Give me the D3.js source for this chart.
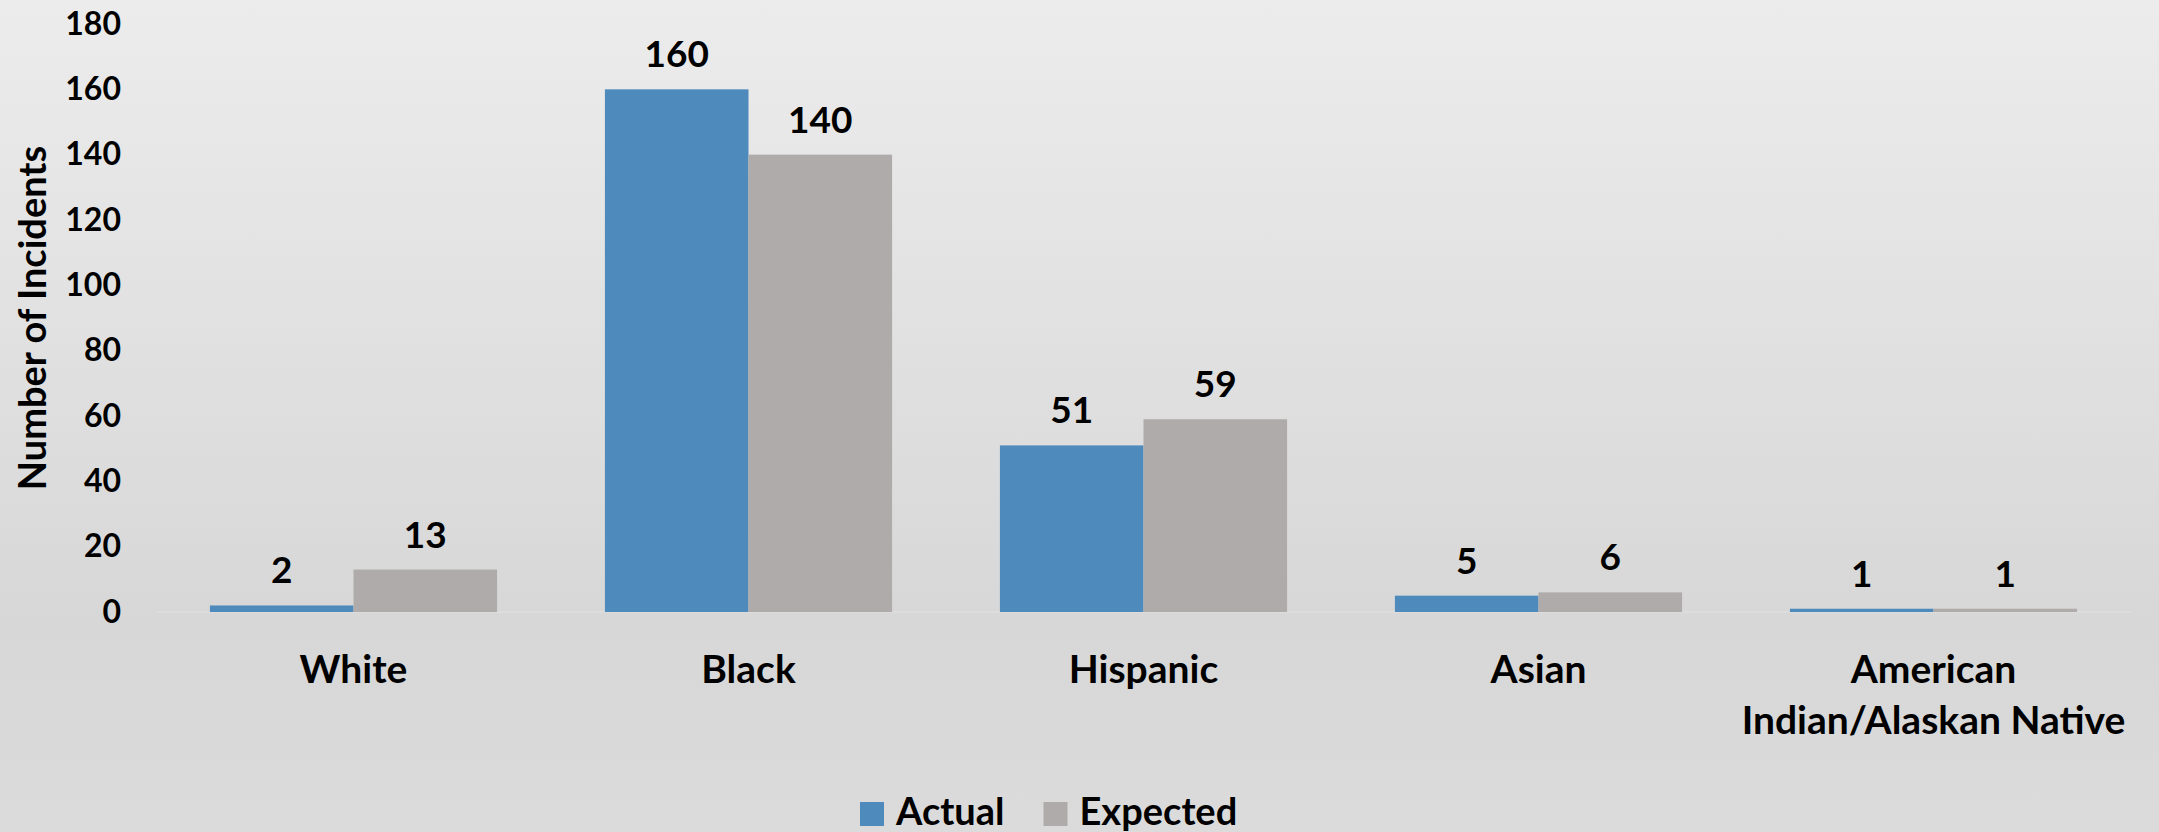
<!DOCTYPE html>
<html>
<head>
<meta charset="utf-8">
<script src="https://cdn.jsdelivr.net/npm/d3@7"></script>
<style>
  html, body { margin: 0; padding: 0; background: #d9d9d9; }
  svg { display: block; }
  text { font-family: Lato, "Open Sans", sans-serif; font-weight: bold; fill: #000; }
</style>
</head>
<body>
<svg id="chart" width="2159" height="832"></svg>
<script>
// ---- data ----
const categories = ["White", "Black", "Hispanic", "Asian", "American Indian/Alaskan Native"];
const categoryLines = [["White"], ["Black"], ["Hispanic"], ["Asian"], ["American", "Indian/Alaskan Native"]];
const seriesNames = ["Actual", "Expected"];
const actual = [2, 160, 51, 5, 1];
const expected = [13, 140, 59, 6, 1];
const yTicks = [0, 20, 40, 60, 80, 100, 120, 140, 160, 180];
const colors = ["#4f8abd", "#afabaa"];

const W = 2159, H = 832;
const svg = d3.select("#chart");

// background gradient
const defs = svg.append("defs");
const grad = defs.append("linearGradient").attr("id", "bg").attr("x1", 0).attr("y1", 0).attr("x2", 0).attr("y2", 1);
grad.append("stop").attr("offset", "0%").attr("stop-color", "#ececec");
grad.append("stop").attr("offset", "75%").attr("stop-color", "#d7d7d7");
grad.append("stop").attr("offset", "100%").attr("stop-color", "#dbdbdb");
svg.append("rect").attr("width", W).attr("height", H).attr("fill", "url(#bg)");

const plot = { left: 156, right: 2131, top: 24, bottom: 612 };

const x = d3.scaleBand().domain(categories).range([plot.left, plot.right])
  .paddingInner(0.273).paddingOuter(0.1365);
const xs = d3.scaleBand().domain(seriesNames).range([0, x.bandwidth()]);
const y = d3.scaleLinear().domain([0, 180]).range([plot.bottom, plot.top]);

const rows = categories.map((c, i) => ({ cat: c, vals: [actual[i], expected[i]] }));

// baseline
svg.append("line")
  .attr("x1", plot.left).attr("x2", plot.right)
  .attr("y1", y(0)).attr("y2", y(0))
  .attr("stroke", "#e2e2e2").attr("stroke-width", 1);

// bars
const groups = svg.append("g").selectAll("g").data(rows).join("g")
  .attr("transform", d => `translate(${x(d.cat)},0)`);
groups.selectAll("rect").data(d => d.vals.map((v, j) => ({ v, s: seriesNames[j], j })))
  .join("rect")
  .attr("x", d => xs(d.s))
  .attr("width", xs.bandwidth())
  .attr("y", d => y(d.v))
  .attr("height", d => y(0) - y(d.v))
  .attr("fill", d => colors[d.j]);

// data labels
groups.selectAll("text.lbl").data(d => d.vals.map((v, j) => ({ v, s: seriesNames[j] })))
  .join("text").attr("class", "lbl")
  .attr("x", d => xs(d.s) + xs.bandwidth() / 2)
  .attr("y", d => y(d.v) - 22)
  .attr("text-anchor", "middle")
  .style("font-size", "37px")
  .text(d => d.v);

// y axis
const yAxis = svg.append("g").attr("transform", `translate(${plot.left},0)`)
  .call(d3.axisLeft(y).tickValues(yTicks).tickSize(0).tickPadding(35));
yAxis.select(".domain").remove();
yAxis.selectAll("text").style("font-size", "32px").style("font-family", "Lato, sans-serif").attr("fill", "#000");

// x axis
const xAxis = svg.append("g").attr("transform", `translate(0,${plot.bottom})`)
  .call(d3.axisBottom(x).tickSize(0));
xAxis.select(".domain").remove();
xAxis.selectAll(".tick text").each(function(d, i) {
  const t = d3.select(this);
  t.text(null).attr("y", 0).attr("dy", null)
    .style("font-size", "39px").style("font-family", "Lato, sans-serif").attr("fill", "#000");
  categoryLines[i].forEach((line, k) => {
    t.append("tspan").attr("x", 0).attr("y", 71 + k * 51).text(line);
  });
});

// y axis title
svg.append("text")
  .attr("transform", `translate(46,${(plot.top + plot.bottom) / 2}) rotate(-90)`)
  .attr("text-anchor", "middle")
  .style("font-size", "38px")
  .text("Number of Incidents");

// legend
const legend = svg.append("g");
let lx = 860;
seriesNames.forEach((s, i) => {
  legend.append("rect").attr("x", lx).attr("y", 802).attr("width", 24).attr("height", 24).attr("fill", colors[i]);
  const t = legend.append("text").attr("x", lx + 36).attr("y", 825).style("font-size", "38px").text(s);
  lx = lx + 36 + t.node().getComputedTextLength() + 39;
});
</script>
</body>
</html>
